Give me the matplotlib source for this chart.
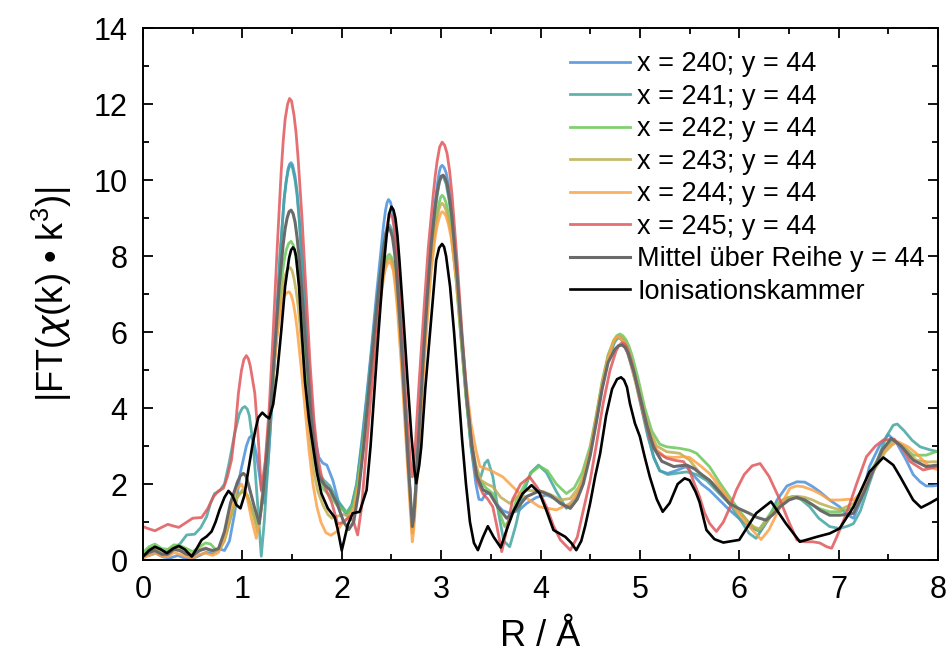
import numpy as np
import matplotlib
matplotlib.use("Agg")
import matplotlib.pyplot as plt

plt.rcParams['font.family'] = ['Liberation Sans', 'DejaVu Sans']
plt.rcParams['mathtext.fontset'] = 'custom'
plt.rcParams['mathtext.rm'] = 'Liberation Sans'

# |FT| curves, (R in Angstrom, magnitude)
x240 = [(0.00, 0.10), (0.06, 0.12), (0.13, 0.18), (0.20, 0.08), (0.27, 0.05), (0.35, 0.12), (0.42, 0.05),
        (0.50, 0.04), (0.57, 0.12), (0.63, 0.20), (0.70, 0.18), (0.76, 0.30), (0.82, 0.25), (0.87, 0.50),
        (0.92, 1.20), (0.98, 2.30), (1.04, 3.00), (1.07, 3.22), (1.09, 3.27), (1.11, 3.15), (1.14, 2.80),
        (1.19, 1.90), (1.22, 1.50), (1.26, 2.60), (1.30, 4.20), (1.34, 6.10), (1.38, 8.00), (1.42, 9.50),
        (1.44, 9.95), (1.46, 10.30), (1.475, 10.42), (1.49, 10.46), (1.505, 10.40), (1.53, 10.10),
        (1.55, 9.70), (1.57, 9.10), (1.61, 7.60), (1.65, 5.90), (1.69, 4.30), (1.73, 3.20), (1.77, 2.70),
        (1.81, 2.55), (1.85, 2.50), (1.91, 2.10), (1.97, 1.50), (2.05, 1.18), (2.10, 1.40), (2.15, 2.00),
        (2.20, 3.10), (2.25, 4.30), (2.30, 5.60), (2.35, 7.00), (2.40, 8.30), (2.42, 8.80), (2.44, 9.20),
        (2.455, 9.40), (2.47, 9.49), (2.49, 9.42), (2.51, 9.20), (2.53, 8.75), (2.55, 8.10), (2.59, 6.50),
        (2.63, 4.60), (2.67, 2.60), (2.69, 1.60), (2.71, 0.80), (2.725, 1.10), (2.74, 1.80), (2.78, 3.60),
        (2.82, 5.40), (2.86, 7.00), (2.90, 8.40), (2.94, 9.40), (2.96, 9.85), (2.98, 10.20), (2.995, 10.35),
        (3.01, 10.39), (3.03, 10.33), (3.05, 10.20), (3.075, 9.85), (3.10, 9.30), (3.15, 7.80), (3.20, 6.00),
        (3.25, 4.40), (3.30, 3.00), (3.35, 2.00), (3.38, 1.60), (3.41, 1.58), (3.45, 1.75), (3.49, 1.75),
        (3.55, 1.50), (3.62, 1.30), (3.69, 1.23), (3.78, 1.30), (3.86, 1.49), (3.96, 1.65), (4.06, 1.71),
        (4.16, 1.60), (4.26, 1.40), (4.35, 1.60), (4.43, 2.10), (4.50, 2.85), (4.56, 3.70), (4.62, 4.60),
        (4.68, 5.30), (4.74, 5.75), (4.765, 5.85), (4.79, 5.88), (4.815, 5.84), (4.84, 5.75), (4.87, 5.57),
        (4.90, 5.30), (4.96, 4.70), (5.02, 4.00), (5.08, 3.30), (5.14, 2.70), (5.20, 2.35), (5.28, 2.28),
        (5.36, 2.35), (5.47, 2.46), (5.55, 2.20), (5.62, 2.00), (5.70, 1.84), (5.80, 1.58), (5.90, 1.32),
        (6.04, 1.00), (6.12, 0.85), (6.21, 0.75), (6.30, 1.10), (6.38, 1.58), (6.48, 1.95), (6.58, 2.06),
        (6.66, 2.05), (6.74, 1.93), (6.81, 1.80), (6.91, 1.58), (7.01, 1.40), (7.08, 1.20), (7.15, 1.10),
        (7.23, 1.60), (7.31, 2.46), (7.41, 3.00), (7.50, 3.30), (7.58, 3.10), (7.68, 2.63), (7.75, 2.25),
        (7.82, 2.06), (7.88, 1.95), (7.95, 1.95), (8.00, 1.97)]

x241 = [(0.00, 0.15), (0.06, 0.30), (0.12, 0.32), (0.19, 0.20), (0.25, 0.25), (0.31, 0.33), (0.37, 0.42),
        (0.44, 0.66), (0.52, 0.68), (0.58, 0.85), (0.64, 1.14), (0.68, 1.50), (0.72, 1.75), (0.77, 1.82),
        (0.82, 2.00), (0.87, 2.60), (0.92, 3.30), (0.97, 3.85), (1.00, 4.00), (1.025, 4.04), (1.05, 3.97),
        (1.07, 3.80), (1.11, 3.00), (1.15, 1.60), (1.19, 0.10), (1.22, 1.00), (1.26, 2.60), (1.30, 4.30),
        (1.34, 6.20), (1.38, 8.10), (1.42, 9.50), (1.44, 9.95), (1.46, 10.25), (1.475, 10.37), (1.49, 10.40),
        (1.505, 10.32), (1.53, 10.00), (1.55, 9.60), (1.57, 9.00), (1.61, 7.40), (1.65, 5.60), (1.69, 4.00),
        (1.73, 2.90), (1.77, 2.30), (1.82, 2.10), (1.88, 1.95), (1.95, 1.60), (2.05, 1.25), (2.10, 1.45),
        (2.15, 2.00), (2.20, 3.00), (2.25, 4.20), (2.30, 5.50), (2.35, 6.80), (2.40, 7.90), (2.42, 8.30),
        (2.44, 8.60), (2.46, 8.76), (2.48, 8.82), (2.50, 8.72), (2.52, 8.50), (2.54, 8.10), (2.56, 7.50),
        (2.60, 5.90), (2.64, 4.00), (2.68, 2.10), (2.71, 0.75), (2.725, 1.05), (2.74, 1.60), (2.78, 3.40),
        (2.82, 5.20), (2.86, 6.80), (2.90, 8.20), (2.94, 9.20), (2.96, 9.60), (2.98, 9.90), (2.995, 10.05),
        (3.01, 10.10), (3.03, 10.04), (3.05, 9.90), (3.075, 9.55), (3.10, 9.10), (3.15, 7.60), (3.20, 5.90),
        (3.25, 4.30), (3.30, 3.00), (3.35, 2.20), (3.40, 2.20), (3.44, 2.55), (3.47, 2.63), (3.52, 2.20),
        (3.58, 1.20), (3.63, 0.50), (3.69, 0.35), (3.75, 0.90), (3.82, 1.70), (3.90, 2.30), (3.98, 2.50),
        (4.06, 2.30), (4.16, 1.80), (4.26, 1.36), (4.35, 1.55), (4.43, 2.10), (4.50, 2.80), (4.56, 3.65),
        (4.62, 4.55), (4.68, 5.25), (4.74, 5.70), (4.765, 5.81), (4.79, 5.85), (4.815, 5.80), (4.84, 5.70),
        (4.87, 5.52), (4.90, 5.25), (4.96, 4.65), (5.02, 3.95), (5.08, 3.25), (5.14, 2.70), (5.20, 2.35),
        (5.28, 2.25), (5.36, 2.28), (5.47, 2.32), (5.57, 2.25), (5.67, 2.10), (5.78, 1.80), (5.90, 1.49),
        (6.00, 1.10), (6.10, 0.70), (6.17, 0.57), (6.25, 0.90), (6.38, 1.40), (6.46, 1.60), (6.54, 1.67),
        (6.62, 1.60), (6.71, 1.40), (6.80, 1.10), (6.91, 0.88), (7.01, 0.83), (7.10, 0.90), (7.15, 0.96),
        (7.22, 1.30), (7.31, 2.02), (7.40, 2.70), (7.48, 3.25), (7.55, 3.55), (7.59, 3.58), (7.66, 3.40),
        (7.74, 3.15), (7.82, 2.98), (7.92, 2.90), (8.00, 2.85)]

x242 = [(0.00, 0.20), (0.06, 0.35), (0.12, 0.42), (0.19, 0.30), (0.25, 0.28), (0.31, 0.40), (0.37, 0.38),
        (0.44, 0.30), (0.50, 0.22), (0.57, 0.35), (0.63, 0.45), (0.68, 0.42), (0.73, 0.28), (0.78, 0.30),
        (0.84, 0.70), (0.90, 1.30), (0.95, 1.70), (1.00, 1.80), (1.05, 1.70), (1.10, 1.30), (1.16, 0.85),
        (1.20, 1.50), (1.24, 2.60), (1.28, 3.80), (1.32, 5.10), (1.36, 6.40), (1.40, 7.50), (1.42, 7.88),
        (1.44, 8.15), (1.465, 8.33), (1.49, 8.39), (1.51, 8.30), (1.53, 8.10), (1.55, 7.75), (1.57, 7.30),
        (1.61, 6.10), (1.65, 4.80), (1.69, 3.50), (1.73, 2.60), (1.77, 2.10), (1.82, 1.85), (1.88, 1.70),
        (1.95, 1.45), (2.02, 1.30), (2.07, 1.25), (2.12, 1.50), (2.17, 2.20), (2.22, 3.20), (2.27, 4.40),
        (2.32, 5.60), (2.37, 6.70), (2.42, 7.60), (2.44, 7.85), (2.46, 8.00), (2.48, 8.05), (2.50, 7.97),
        (2.52, 7.80), (2.54, 7.40), (2.56, 6.90), (2.60, 5.50), (2.64, 3.80), (2.68, 2.10), (2.71, 0.85),
        (2.725, 1.15), (2.74, 1.70), (2.78, 3.40), (2.82, 5.10), (2.86, 6.60), (2.90, 7.90), (2.94, 8.80),
        (2.96, 9.15), (2.98, 9.40), (2.995, 9.55), (3.01, 9.60), (3.03, 9.54), (3.05, 9.40), (3.075, 9.10),
        (3.10, 8.70), (3.15, 7.40), (3.20, 5.80), (3.25, 4.30), (3.30, 3.10), (3.35, 2.40), (3.39, 2.10),
        (3.45, 1.90), (3.52, 1.75), (3.58, 1.30), (3.64, 0.88), (3.70, 1.10), (3.76, 1.60), (3.83, 1.93),
        (3.91, 2.30), (3.99, 2.47), (4.07, 2.35), (4.16, 2.00), (4.26, 1.75), (4.34, 1.90), (4.42, 2.30),
        (4.50, 3.00), (4.56, 3.80), (4.62, 4.70), (4.68, 5.40), (4.74, 5.80), (4.77, 5.91), (4.80, 5.95),
        (4.83, 5.90), (4.86, 5.80), (4.89, 5.63), (4.92, 5.40), (4.98, 4.80), (5.05, 4.00), (5.12, 3.40),
        (5.20, 3.05), (5.27, 2.98), (5.40, 2.94), (5.50, 2.89), (5.57, 2.81), (5.70, 2.46), (5.80, 2.05),
        (5.90, 1.67), (6.00, 1.30), (6.10, 0.97), (6.19, 0.77), (6.28, 1.10), (6.38, 1.49), (6.46, 1.62),
        (6.54, 1.67), (6.62, 1.60), (6.71, 1.49), (6.81, 1.35), (6.91, 1.27), (7.01, 1.27), (7.08, 1.32),
        (7.15, 1.40), (7.25, 1.90), (7.35, 2.46), (7.45, 2.90), (7.55, 3.16), (7.65, 3.00), (7.75, 2.76),
        (7.88, 2.76), (8.00, 2.87)]

x243 = [(0.00, 0.12), (0.06, 0.25), (0.12, 0.30), (0.19, 0.18), (0.25, 0.20), (0.31, 0.33), (0.37, 0.30),
        (0.44, 0.20), (0.50, 0.15), (0.57, 0.28), (0.63, 0.32), (0.70, 0.22), (0.76, 0.25), (0.82, 0.50),
        (0.88, 1.10), (0.94, 1.60), (1.00, 1.85), (1.05, 1.70), (1.10, 1.30), (1.15, 0.75), (1.19, 1.40),
        (1.23, 2.40), (1.27, 3.60), (1.31, 4.80), (1.35, 6.00), (1.39, 6.90), (1.41, 7.25), (1.43, 7.50),
        (1.455, 7.66), (1.48, 7.70), (1.50, 7.62), (1.52, 7.40), (1.54, 7.10), (1.56, 6.70), (1.60, 5.60),
        (1.64, 4.40), (1.68, 3.20), (1.72, 2.30), (1.76, 1.80), (1.81, 1.45), (1.86, 1.20), (1.90, 1.10),
        (1.95, 1.15), (2.02, 1.20), (2.07, 1.15), (2.12, 1.30), (2.17, 2.00), (2.22, 3.00), (2.27, 4.30),
        (2.32, 5.50), (2.37, 6.60), (2.42, 7.50), (2.44, 7.76), (2.46, 7.90), (2.48, 7.95), (2.50, 7.88),
        (2.52, 7.70), (2.54, 7.30), (2.56, 6.80), (2.60, 5.40), (2.64, 3.70), (2.68, 2.00), (2.71, 0.70),
        (2.725, 1.00), (2.74, 1.60), (2.78, 3.30), (2.82, 5.00), (2.86, 6.50), (2.90, 7.80), (2.94, 8.70),
        (2.96, 9.02), (2.98, 9.25), (2.995, 9.35), (3.01, 9.39), (3.03, 9.33), (3.05, 9.20), (3.075, 8.95),
        (3.10, 8.60), (3.15, 7.40), (3.20, 5.90), (3.25, 4.40), (3.30, 3.20), (3.35, 2.50), (3.40, 2.10),
        (3.46, 2.00), (3.52, 1.93), (3.60, 1.65), (3.69, 1.49), (3.78, 1.70), (3.86, 1.84), (3.95, 1.82),
        (4.03, 1.80), (4.12, 1.70), (4.20, 1.58), (4.30, 1.62), (4.38, 1.90), (4.43, 2.20), (4.50, 2.90),
        (4.56, 3.75), (4.62, 4.65), (4.68, 5.35), (4.74, 5.78), (4.765, 5.87), (4.79, 5.90), (4.82, 5.85),
        (4.85, 5.75), (4.88, 5.55), (4.91, 5.30), (4.97, 4.70), (5.04, 3.95), (5.10, 3.40), (5.17, 3.00),
        (5.27, 2.85), (5.40, 2.81), (5.50, 2.63), (5.60, 2.30), (5.75, 2.00), (5.90, 1.58), (6.00, 1.25),
        (6.14, 0.88), (6.21, 0.81), (6.30, 1.10), (6.41, 1.49), (6.50, 1.65), (6.58, 1.68), (6.66, 1.65),
        (6.74, 1.58), (6.81, 1.49), (6.91, 1.40), (7.01, 1.32), (7.15, 1.49), (7.25, 1.90), (7.38, 2.46),
        (7.47, 2.85), (7.57, 3.11), (7.66, 2.95), (7.78, 2.63), (7.90, 2.58), (8.00, 2.59)]

x244 = [(0.00, 0.05), (0.06, 0.12), (0.12, 0.18), (0.19, 0.10), (0.25, 0.08), (0.31, 0.20), (0.37, 0.15),
        (0.44, 0.08), (0.50, 0.05), (0.57, 0.15), (0.63, 0.18), (0.70, 0.12), (0.76, 0.20), (0.82, 0.60),
        (0.88, 1.30), (0.94, 1.85), (0.99, 2.00), (1.04, 1.75), (1.09, 1.10), (1.14, 0.57), (1.18, 1.20),
        (1.22, 2.20), (1.26, 3.40), (1.30, 4.60), (1.34, 5.70), (1.38, 6.50), (1.40, 6.78), (1.42, 6.95),
        (1.445, 7.03), (1.47, 7.06), (1.49, 6.98), (1.51, 6.80), (1.53, 6.50), (1.55, 6.10), (1.59, 5.10),
        (1.63, 4.00), (1.67, 2.90), (1.71, 2.00), (1.75, 1.40), (1.79, 1.00), (1.84, 0.72), (1.89, 0.65),
        (1.95, 0.75), (2.00, 0.95), (2.06, 1.10), (2.12, 1.35), (2.17, 2.00), (2.22, 3.00), (2.27, 4.20),
        (2.32, 5.40), (2.37, 6.50), (2.42, 7.40), (2.44, 7.67), (2.46, 7.80), (2.48, 7.85), (2.50, 7.78),
        (2.52, 7.60), (2.54, 7.15), (2.56, 6.60), (2.60, 5.10), (2.64, 3.40), (2.68, 1.70), (2.71, 0.48),
        (2.725, 0.80), (2.74, 1.40), (2.78, 3.10), (2.82, 4.80), (2.86, 6.30), (2.90, 7.60), (2.94, 8.50),
        (2.96, 8.80), (2.98, 9.00), (2.995, 9.12), (3.01, 9.17), (3.03, 9.13), (3.05, 9.05), (3.075, 8.82),
        (3.10, 8.50), (3.15, 7.50), (3.20, 6.10), (3.25, 4.70), (3.30, 3.60), (3.35, 2.90), (3.39, 2.46),
        (3.49, 2.37), (3.62, 2.19), (3.79, 1.75), (3.99, 1.40), (4.16, 1.32), (4.30, 1.49), (4.38, 1.80),
        (4.43, 2.10), (4.50, 2.85), (4.56, 3.70), (4.62, 4.60), (4.68, 5.30), (4.73, 5.72), (4.755, 5.84),
        (4.78, 5.88), (4.81, 5.82), (4.84, 5.70), (4.87, 5.50), (4.90, 5.25), (4.96, 4.65), (5.03, 3.90),
        (5.10, 3.30), (5.17, 2.90), (5.25, 2.72), (5.35, 2.70), (5.44, 2.72), (5.50, 2.70), (5.60, 2.50),
        (5.70, 2.28), (5.80, 1.95), (5.90, 1.58), (6.00, 1.20), (6.10, 0.88), (6.22, 0.54), (6.30, 0.80),
        (6.38, 1.23), (6.45, 1.60), (6.51, 1.89), (6.58, 1.95), (6.64, 1.93), (6.73, 1.85), (6.81, 1.75),
        (6.91, 1.58), (7.01, 1.58), (7.10, 1.60), (7.15, 1.58), (7.25, 1.84), (7.33, 2.30), (7.41, 2.72),
        (7.50, 3.00), (7.60, 3.11), (7.70, 2.98), (7.78, 2.81), (7.91, 2.46), (8.00, 2.37)]

x245 = [(0.00, 0.88), (0.06, 0.82), (0.12, 0.77), (0.18, 0.85), (0.25, 0.94), (0.30, 0.90), (0.36, 0.86),
        (0.43, 0.98), (0.50, 1.10), (0.59, 1.12), (0.65, 1.35), (0.71, 1.67), (0.76, 1.82), (0.81, 1.89),
        (0.85, 2.20), (0.89, 2.63), (0.93, 3.50), (0.96, 4.39), (0.99, 4.98), (1.015, 5.28), (1.04, 5.38),
        (1.06, 5.30), (1.08, 5.10), (1.125, 4.39), (1.16, 3.20), (1.19, 1.84), (1.23, 2.60), (1.27, 4.00),
        (1.31, 6.00), (1.35, 8.20), (1.39, 10.20), (1.41, 11.00), (1.43, 11.60), (1.455, 12.00),
        (1.475, 12.15), (1.495, 12.08), (1.52, 11.70), (1.54, 11.25), (1.56, 10.60), (1.60, 9.00),
        (1.64, 7.10), (1.68, 5.20), (1.72, 3.70), (1.76, 2.70), (1.80, 2.15), (1.85, 1.80), (1.90, 1.50),
        (1.96, 0.95), (2.02, 1.00), (2.08, 1.15), (2.12, 1.00), (2.16, 0.66), (2.20, 1.40), (2.25, 3.00),
        (2.30, 4.50), (2.35, 6.00), (2.40, 7.50), (2.43, 8.30), (2.45, 8.70), (2.47, 8.98), (2.49, 9.10),
        (2.51, 9.02), (2.53, 8.70), (2.55, 8.20), (2.57, 7.50), (2.61, 5.80), (2.65, 4.00), (2.69, 2.60),
        (2.71, 2.19), (2.725, 2.45), (2.74, 3.00), (2.78, 4.74), (2.83, 6.70), (2.87, 8.20), (2.92, 9.60),
        (2.94, 10.10), (2.96, 10.50), (2.985, 10.87), (3.01, 11.00), (3.035, 10.92), (3.06, 10.70),
        (3.085, 10.25), (3.11, 9.60), (3.16, 7.90), (3.21, 6.00), (3.26, 4.30), (3.31, 3.00), (3.36, 2.10),
        (3.42, 1.75), (3.47, 1.60), (3.52, 1.40), (3.56, 0.90), (3.61, 0.22), (3.66, 0.80), (3.72, 1.60),
        (3.80, 2.00), (3.89, 2.19), (3.97, 1.90), (4.06, 1.40), (4.13, 0.90), (4.20, 0.53), (4.30, 0.26),
        (4.37, 0.60), (4.43, 1.30), (4.50, 2.10), (4.56, 3.00), (4.63, 4.12), (4.70, 5.00), (4.76, 5.50),
        (4.79, 5.65), (4.82, 5.72), (4.845, 5.69), (4.87, 5.60), (4.92, 5.20), (4.98, 4.50), (5.04, 3.80),
        (5.10, 3.20), (5.17, 2.85), (5.27, 2.68), (5.36, 2.62), (5.44, 2.59), (5.50, 2.35), (5.55, 2.00),
        (5.60, 1.67), (5.65, 1.25), (5.70, 0.97), (5.77, 0.75), (5.84, 1.00), (5.90, 1.35), (5.97, 1.84),
        (6.05, 2.25), (6.13, 2.48), (6.21, 2.54), (6.30, 2.20), (6.41, 1.58), (6.50, 1.00), (6.58, 0.53),
        (6.66, 0.48), (6.74, 0.48), (6.81, 0.45), (6.88, 0.35), (6.93, 0.31), (6.98, 0.60), (7.08, 1.23),
        (7.18, 2.00), (7.28, 2.72), (7.37, 3.00), (7.45, 3.16), (7.56, 3.18), (7.64, 2.95), (7.72, 2.59),
        (7.85, 2.37), (8.00, 2.46)]

mittel = [(0.00, 0.10), (0.06, 0.20), (0.12, 0.25), (0.19, 0.15), (0.25, 0.15), (0.31, 0.28), (0.37, 0.25),
          (0.44, 0.15), (0.50, 0.12), (0.57, 0.25), (0.63, 0.30), (0.70, 0.25), (0.76, 0.30), (0.82, 0.75),
          (0.88, 1.50), (0.95, 2.05), (0.98, 2.22), (1.01, 2.28), (1.035, 2.22), (1.06, 2.00), (1.12, 1.40),
          (1.17, 0.96), (1.21, 1.80), (1.25, 2.90), (1.29, 4.20), (1.33, 5.70), (1.37, 7.20), (1.41, 8.30),
          (1.43, 8.72), (1.45, 9.00), (1.47, 9.17), (1.49, 9.21), (1.51, 9.12), (1.53, 8.90), (1.55, 8.50),
          (1.57, 8.00), (1.61, 6.70), (1.65, 5.20), (1.69, 3.80), (1.73, 2.80), (1.77, 2.20), (1.82, 2.00),
          (1.88, 1.85), (1.95, 1.50), (2.02, 1.00), (2.07, 0.80), (2.12, 1.00), (2.17, 1.80), (2.22, 3.00),
          (2.27, 4.40), (2.32, 5.80), (2.37, 7.10), (2.42, 8.20), (2.445, 8.58), (2.47, 8.75), (2.49, 8.68),
          (2.51, 8.50), (2.53, 8.12), (2.55, 7.60), (2.59, 6.10), (2.63, 4.30), (2.67, 2.50), (2.71, 0.88),
          (2.725, 1.15), (2.74, 1.70), (2.78, 3.50), (2.82, 5.30), (2.86, 6.90), (2.90, 8.30), (2.94, 9.30),
          (2.96, 9.68), (2.98, 9.95), (3.00, 10.10), (3.02, 10.13), (3.04, 10.05), (3.06, 9.90), (3.085, 9.50),
          (3.11, 9.00), (3.16, 7.50), (3.21, 5.80), (3.26, 4.20), (3.31, 3.00), (3.36, 2.20), (3.42, 1.85),
          (3.49, 1.75), (3.57, 1.40), (3.66, 1.10), (3.76, 1.35), (3.86, 1.67), (3.99, 1.82), (4.10, 1.70),
          (4.20, 1.49), (4.30, 1.36), (4.37, 1.60), (4.43, 2.00), (4.50, 2.75), (4.56, 3.60), (4.62, 4.50),
          (4.68, 5.20), (4.75, 5.55), (4.785, 5.64), (4.82, 5.66), (4.85, 5.60), (4.88, 5.45), (4.94, 4.95),
          (5.00, 4.30), (5.07, 3.55), (5.14, 2.95), (5.22, 2.60), (5.34, 2.46), (5.47, 2.50), (5.55, 2.40),
          (5.62, 2.25), (5.70, 2.10), (5.80, 1.80), (5.90, 1.49), (6.00, 1.35), (6.10, 1.23), (6.18, 1.12),
          (6.27, 1.05), (6.34, 1.20), (6.41, 1.40), (6.50, 1.58), (6.58, 1.65), (6.66, 1.58), (6.74, 1.45),
          (6.82, 1.30), (6.91, 1.18), (7.01, 1.18), (7.08, 1.20), (7.15, 1.23), (7.25, 1.75), (7.35, 2.37),
          (7.44, 2.90), (7.53, 3.20), (7.63, 3.00), (7.75, 2.63), (7.88, 2.46), (8.00, 2.50)]

ionisation = [(0.00, 0.09), (0.06, 0.25), (0.12, 0.35), (0.18, 0.28), (0.24, 0.18), (0.30, 0.30),
              (0.36, 0.37), (0.42, 0.28), (0.49, 0.09), (0.54, 0.30), (0.59, 0.53), (0.64, 0.62),
              (0.69, 0.75), (0.73, 1.00), (0.77, 1.32), (0.82, 1.65), (0.86, 1.82), (0.90, 1.70),
              (0.94, 1.45), (0.98, 1.36), (1.02, 1.70), (1.06, 2.37), (1.10, 3.00), (1.13, 3.42),
              (1.16, 3.75), (1.20, 3.88), (1.24, 3.78), (1.27, 3.73), (1.31, 4.10), (1.35, 4.90),
              (1.39, 6.00), (1.43, 7.20), (1.47, 7.95), (1.49, 8.16), (1.51, 8.23), (1.525, 8.17),
              (1.54, 8.00), (1.57, 7.20), (1.60, 5.90), (1.63, 4.70), (1.67, 3.70), (1.71, 3.00),
              (1.75, 2.30), (1.795, 1.75), (1.86, 1.36), (1.93, 1.12), (1.96, 0.80), (2.00, 0.25),
              (2.06, 0.92), (2.11, 1.23), (2.18, 1.27), (2.25, 1.84), (2.29, 3.00), (2.33, 4.50),
              (2.37, 6.00), (2.41, 7.40), (2.45, 8.50), (2.475, 9.10), (2.50, 9.30), (2.52, 9.22),
              (2.54, 9.00), (2.56, 8.55), (2.58, 7.90), (2.62, 6.40), (2.66, 4.80), (2.70, 3.30),
              (2.73, 2.40), (2.75, 2.02), (2.78, 2.50), (2.80, 2.98), (2.84, 4.50), (2.89, 6.05),
              (2.95, 7.89), (2.98, 8.22), (3.01, 8.32), (3.03, 8.24), (3.05, 8.00), (3.09, 7.20),
              (3.13, 6.00), (3.17, 4.60), (3.21, 3.20), (3.25, 2.00), (3.29, 1.00), (3.33, 0.45),
              (3.37, 0.26), (3.42, 0.60), (3.47, 0.89), (3.53, 0.60), (3.60, 0.33), (3.66, 0.80),
              (3.73, 1.30), (3.82, 1.75), (3.91, 1.97), (3.99, 1.76), (4.06, 1.30), (4.13, 0.79),
              (4.25, 0.61), (4.31, 0.45), (4.36, 0.26), (4.41, 0.50), (4.45, 0.90), (4.50, 1.50),
              (4.55, 2.20), (4.60, 2.80), (4.66, 3.80), (4.72, 4.50), (4.77, 4.76), (4.81, 4.81),
              (4.84, 4.74), (4.87, 4.55), (4.90, 4.12), (4.95, 3.60), (5.00, 3.25), (5.05, 2.70),
              (5.10, 2.19), (5.17, 1.60), (5.23, 1.27), (5.30, 1.50), (5.38, 2.00), (5.45, 2.15),
              (5.50, 2.10), (5.56, 1.80), (5.60, 1.53), (5.67, 0.79), (5.75, 0.55), (5.84, 0.46),
              (6.00, 0.53), (6.17, 1.23), (6.32, 1.54), (6.47, 0.96), (6.61, 0.48), (6.78, 0.61),
              (6.91, 0.70), (7.01, 0.83), (7.15, 1.40), (7.31, 2.32), (7.45, 2.70), (7.55, 2.50),
              (7.62, 2.19), (7.75, 1.58), (7.83, 1.38), (7.92, 1.50), (8.00, 1.62)]

labels = ['x = 240; y = 44', 'x = 241; y = 44', 'x = 242; y = 44', 'x = 243; y = 44',
          'x = 244; y = 44', 'x = 245; y = 44', 'Mittel über Reihe y = 44', 'Ionisationskammer']
series = [x240, x241, x242, x243, x244, x245, mittel, ionisation]
colors = ['#4a90dc', '#44a5a0', '#6cc75a', '#bfae52', '#fba247', '#e0575a', '#6a6a6a', '#000000']
alphas = [0.85, 0.85, 0.85, 0.85, 0.85, 0.85, 1.0, 1.0]
widths = [2.0, 2.0, 2.0, 2.0, 2.0, 2.0, 2.2, 1.9]

fig = plt.figure(figsize=(9.49, 6.55), dpi=100)
ax = fig.add_axes([0.1507, 0.145, 0.8377, 0.812])

for data, lab, c, a, w in zip(series, labels, colors, alphas, widths):
    r, v = zip(*data)
    ax.plot(r, v, color=c, alpha=a, lw=w, label=lab)

ax.set_xlim(0, 8)
ax.set_ylim(0, 14)
ax.set_xticks(np.arange(0, 9, 1))
ax.set_xticks(np.arange(0.5, 8, 1), minor=True)
ax.set_yticks(np.arange(0, 15, 2))
ax.set_yticks(np.arange(1, 14, 2), minor=True)
ax.tick_params(which='both', direction='in', top=True, right=True, width=1.3)
ax.tick_params(which='major', length=7, labelsize=22, pad=11)
ax.tick_params(which='minor', length=4)
for s in ax.spines.values():
    s.set_linewidth(1.4)

ax.set_xlabel('R / Å', fontsize=26, labelpad=10)
ax.set_ylabel('|FT(' + r'$\chi$' + '(k) • k' + r'$^3$' + ')|', fontsize=26, labelpad=14)

ax.legend(loc='upper left', bbox_to_anchor=(0.537, 0.957), frameon=False, fontsize=19.5,
          handlelength=2.2, handletextpad=0.28, labelspacing=0.24, borderaxespad=0, borderpad=0)

fig.savefig('out.png', dpi=100)
